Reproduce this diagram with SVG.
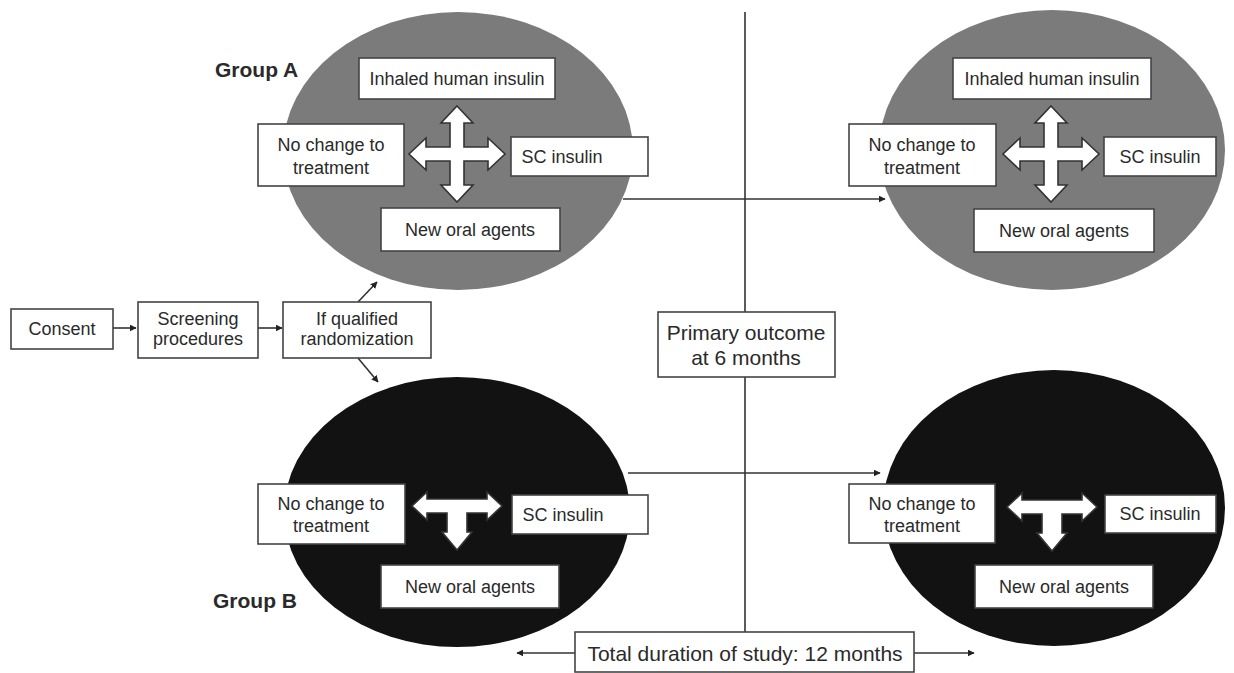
<svg xmlns="http://www.w3.org/2000/svg" width="1234" height="673" viewBox="0 0 1234 673">
<defs>
<style>
.box{fill:#fff;stroke:#444;stroke-width:1.6}
.t{font-family:"Liberation Sans",Arial,sans-serif;font-size:18px;fill:#2a2a2a;text-anchor:middle}
.tl{font-family:"Liberation Sans",Arial,sans-serif;font-size:21px;fill:#2a2a2a;text-anchor:middle}
.grp{font-family:"Liberation Sans",Arial,sans-serif;font-size:21px;font-weight:bold;fill:#2a2a2a}
.ln{fill:none;stroke:#333;stroke-width:1.6}
.gray{fill:#7b7b7b}
.black{fill:#121212}
.arr{fill:#fff;stroke:#333;stroke-width:1.6;stroke-linejoin:miter}
</style>
<marker id="ah" viewBox="0 0 10 10" refX="9" refY="5" markerWidth="7" markerHeight="7" markerUnits="userSpaceOnUse" orient="auto">
<path d="M0,0 L10,5 L0,10 Z" fill="#222"/>
</marker>
<path id="cross" d="M0,-48 L16,-31 L7,-31 L7,-7 L31,-7 L31,-16 L48,0 L31,16 L31,7 L7,7 L7,31 L16,31 L0,48 L-16,31 L-7,31 L-7,7 L-31,7 L-31,16 L-48,0 L-31,-16 L-31,-7 L-7,-7 L-7,-31 L-16,-31 Z"/>
<path id="tee" d="M-45,0 L-30,-14 L-30,-7 L30,-7 L30,-14 L45,0 L30,14 L30,7 L10,7 L10,26 L15,26 L0,44 L-15,26 L-10,26 L-10,7 L-30,7 L-30,14 Z"/>
</defs>
<rect width="1234" height="673" fill="#fff"/>

<g id="connectors">
<line class="ln" x1="745" y1="12" x2="745" y2="632"/>
<line class="ln" x1="623" y1="199" x2="885" y2="199" marker-end="url(#ah)"/>
<line class="ln" x1="628" y1="473" x2="880" y2="473" marker-end="url(#ah)"/>
<line class="ln" x1="113" y1="328" x2="136" y2="328" marker-end="url(#ah)"/>
<line class="ln" x1="258" y1="328" x2="282" y2="328" marker-end="url(#ah)"/>
<line class="ln" x1="358" y1="302" x2="377" y2="282" marker-end="url(#ah)"/>
<line class="ln" x1="358" y1="358" x2="378" y2="382" marker-end="url(#ah)"/>
<line class="ln" x1="575" y1="653" x2="517" y2="653" marker-end="url(#ah)"/>
<line class="ln" x1="914" y1="653" x2="974" y2="653" marker-end="url(#ah)"/>
</g>

<g id="consent">
<rect class="box" x="11" y="309" width="102" height="40"/>
<text class="t" x="62" y="335">Consent</text>
</g>
<g id="screening">
<rect class="box" x="138" y="302" width="120" height="56"/>
<text class="t" x="198" y="325">Screening</text>
<text class="t" x="198" y="345">procedures</text>
</g>
<g id="randomization">
<rect class="box" x="283" y="302" width="148" height="56"/>
<text class="t" x="357" y="325">If qualified</text>
<text class="t" x="357" y="345">randomization</text>
</g>

<g id="groupA-6m">
<ellipse class="gray" cx="458" cy="151" rx="175" ry="139"/>
<rect class="box" x="359" y="58" width="196" height="41"/>
<text class="t" x="457" y="85">Inhaled human insulin</text>
<rect class="box" x="258" y="124" width="146" height="62"/>
<text class="t" x="331" y="151">No change to</text>
<text class="t" x="331" y="174">treatment</text>
<rect class="box" x="511" y="137" width="137" height="39"/>
<text class="t" x="562" y="163">SC insulin</text>
<rect class="box" x="381" y="208" width="179" height="43"/>
<text class="t" x="470" y="236">New oral agents</text>
<use href="#cross" class="arr" transform="translate(457,154)"/>
</g>
<g id="groupA-label"><text class="grp" x="215" y="77">Group A</text></g>

<g id="groupA-12m">
<ellipse class="gray" cx="1052" cy="150" rx="173" ry="140"/>
<rect class="box" x="953" y="58" width="198" height="41"/>
<text class="t" x="1052" y="85">Inhaled human insulin</text>
<rect class="box" x="849" y="124" width="147" height="62"/>
<text class="t" x="922" y="151">No change to</text>
<text class="t" x="922" y="174">treatment</text>
<rect class="box" x="1104" y="137" width="112" height="39"/>
<text class="t" x="1160" y="163">SC insulin</text>
<rect class="box" x="974" y="209" width="180" height="43"/>
<text class="t" x="1064" y="237">New oral agents</text>
<use href="#cross" class="arr" transform="translate(1051,154)"/>
</g>

<g id="groupB-6m">
<ellipse class="black" cx="457" cy="512" rx="173" ry="135"/>
<rect class="box" x="258" y="484" width="147" height="60"/>
<text class="t" x="331" y="510">No change to</text>
<text class="t" x="331" y="532">treatment</text>
<rect class="box" x="512" y="495" width="136" height="39"/>
<text class="t" x="563" y="521">SC insulin</text>
<rect class="box" x="381" y="565" width="178" height="43"/>
<text class="t" x="470" y="593">New oral agents</text>
<use href="#tee" class="arr" transform="translate(457,506)"/>
</g>
<g id="groupB-label"><text class="grp" x="213" y="608">Group B</text></g>

<g id="groupB-12m">
<ellipse class="black" cx="1054" cy="508" rx="171" ry="138"/>
<rect class="box" x="849" y="484" width="146" height="59"/>
<text class="t" x="922" y="510">No change to</text>
<text class="t" x="922" y="532">treatment</text>
<rect class="box" x="1105" y="495" width="111" height="38"/>
<text class="t" x="1160" y="520">SC insulin</text>
<rect class="box" x="975" y="565" width="178" height="43"/>
<text class="t" x="1064" y="593">New oral agents</text>
<use href="#tee" class="arr" transform="translate(1052,507)"/>
</g>

<g id="primary-outcome">
<rect class="box" x="658" y="312" width="177" height="65"/>
<text class="tl" x="746" y="340">Primary outcome</text>
<text class="tl" x="746" y="365">at 6 months</text>
</g>

<g id="total-duration">
<rect class="box" x="575" y="632" width="339" height="40"/>
<text class="tl" x="745" y="661">Total duration of study: 12 months</text>
</g>
</svg>
